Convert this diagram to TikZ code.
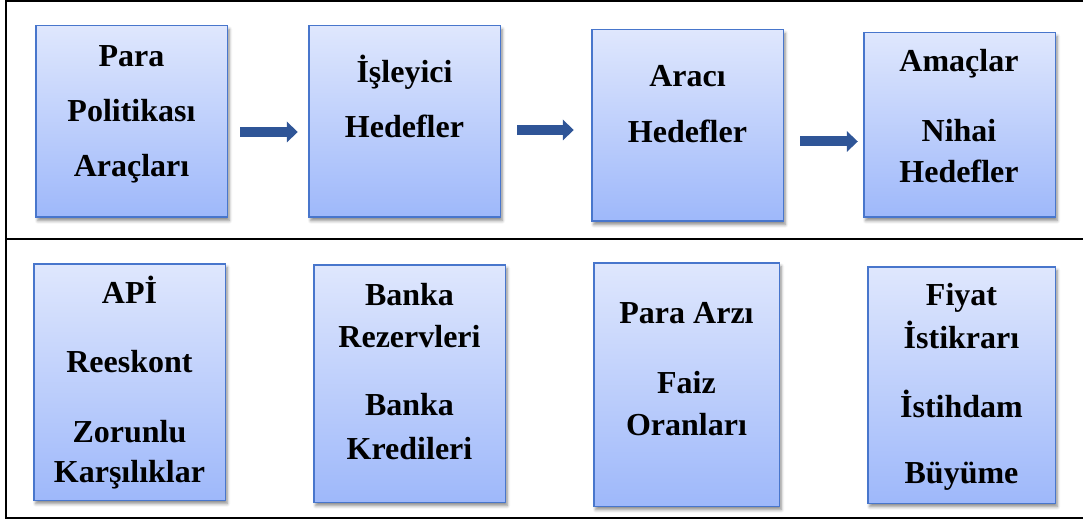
\documentclass[tikz,border=0pt]{standalone}
\usepackage{fontspec}
\setmainfont{Liberation Serif}
\usetikzlibrary{shadows.blur,arrows.meta}
\definecolor{boxtop}{RGB}{223,231,253}
\definecolor{boxbot}{RGB}{158,184,250}
\definecolor{boxline}{RGB}{72,118,204}
\definecolor{arrowc}{RGB}{47,85,151}
\tikzset{
  box/.style={draw=boxline, line width=1.5pt, top color=boxtop, bottom color=boxbot,
    inner sep=0pt, outer sep=0pt,
    blur shadow={shadow xshift=2pt, shadow yshift=-3.5pt, shadow blur radius=3pt, shadow opacity=45}},
  txt/.style={anchor=base, font=\bfseries\fontsize{32}{38}\selectfont, inner sep=0pt},
  bigarrow/.style={draw=arrowc, line width=10pt, -{Triangle[length=11pt 0, width=21pt 0, line width=0pt]}},
  framel/.style={line width=2.5pt, draw=black}
}
\begin{document}
\begin{tikzpicture}[x=1pt, y=-1pt]
\useasboundingbox (0,0) rectangle (1083,521);
% frame
\draw[framel] (1083,1.2) -- (6,1.2) -- (6,518) -- (1083,518);
\draw[framel] (6,239) -- (1083,239);
% top boxes
\node[box, minimum width=191.5pt, minimum height=191.5pt] (t1) at (131.5,121.5) {};
\node[box, minimum width=191.5pt, minimum height=191.5pt] (t2) at (404.5,121.5) {};
\node[box, minimum width=191.5pt, minimum height=191.5pt] (t3) at (687.5,125.5) {};
\node[box, minimum width=191.5pt, minimum height=184.5pt] (t4) at (959.5,125) {};
% bottom boxes
\node[box, minimum width=191.5pt, minimum height=236.5pt] (b1) at (129.5,382) {};
\node[box, minimum width=191.5pt, minimum height=237.5pt] (b2) at (409.5,383.5) {};
\node[box, minimum width=185.5pt, minimum height=243.5pt] (b3) at (686.5,384.5) {};
\node[box, minimum width=187.5pt, minimum height=236.5pt] (b4) at (961.5,385) {};
% arrows
\draw[bigarrow] ([shift={(13,10.5)}]t1.east) -- ([shift={(-11,10.5)}]t2.west);
\draw[bigarrow] ([shift={(17,8.5)}]t2.east) -- ([shift={(-18,4.5)}]t3.west);
\draw[bigarrow] ([shift={(17,16)}]t3.east) -- ([shift={(-6,16.5)}]t4.west);
% texts top
\node[txt] (t1a) at (131.5,67) {Para};
\node[txt] (t1b) at (131.5,122) {Politikası};
\node[txt] (t1c) at (131.5,177) {Araçları};
\node[txt] (t2a) at (404.5,83) {İşleyici};
\node[txt] (t2b) at (404.5,138) {Hedefler};
\node[txt] (t3a) at (687.5,87) {Aracı};
\node[txt] (t3b) at (687.5,143) {Hedefler};
\node[txt] (t4a) at (959,72) {Amaçlar};
\node[txt] (t4b) at (959,142) {Nihai};
\node[txt] (t4c) at (959,183) {Hedefler};
% texts bottom
\node[txt] (b1a) at (129.5,303) {APİ};
\node[txt] (b1b) at (129.5,372) {Reeskont};
\node[txt] (b1c) at (129.5,442) {Zorunlu};
\node[txt] (b1d) at (129.5,482) {Karşılıklar};
\node[txt] (b2a) at (409.5,305) {Banka};
\node[txt] (b2b) at (409.5,347) {Rezervleri};
\node[txt] (b2c) at (409.5,415) {Banka};
\node[txt] (b2d) at (409.5,459) {Kredileri};
\node[txt] (b3a) at (686.5,323) {Para Arzı};
\node[txt] (b3b) at (686.5,393) {Faiz};
\node[txt] (b3c) at (686.5,435) {Oranları};
\node[txt] (b4a) at (961.5,305) {Fiyat};
\node[txt] (b4b) at (961.5,348) {İstikrarı};
\node[txt] (b4c) at (961.5,417) {İstihdam};
\node[txt] (b4d) at (961.5,483) {Büyüme};
\end{tikzpicture}
\end{document}
